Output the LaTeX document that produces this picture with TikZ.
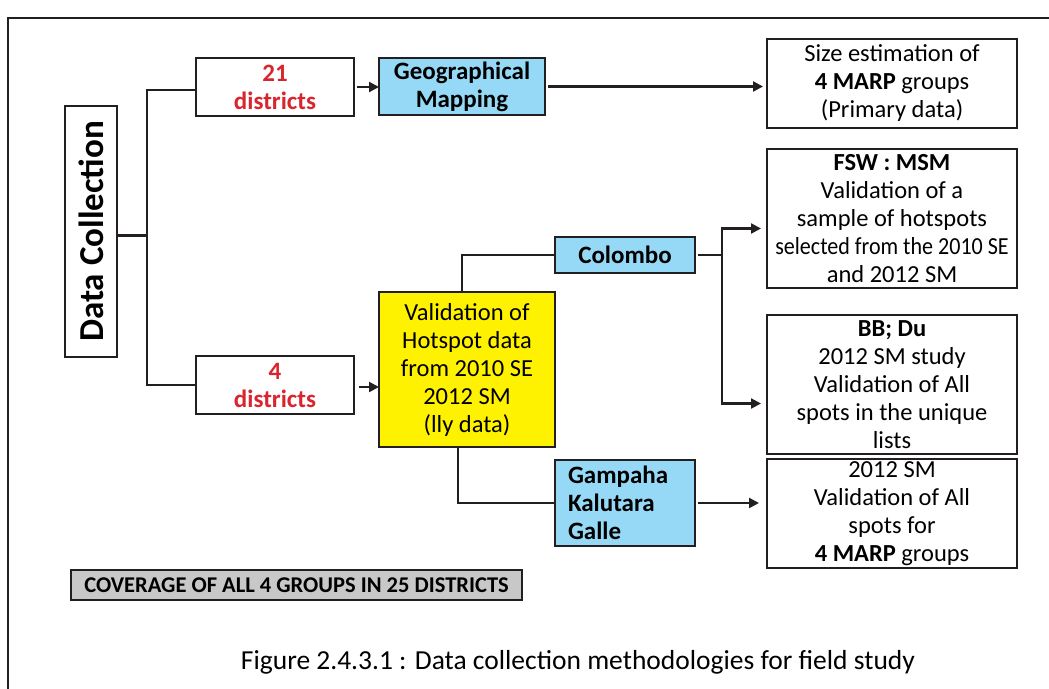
\documentclass[tikz,border=0pt]{standalone}
\usepackage{fontspec}
\setmainfont{Carlito}
\usetikzlibrary{arrows.meta,calc}
\definecolor{myred}{HTML}{D9262E}
\definecolor{myblue}{HTML}{95D9F7}
\definecolor{myyellow}{HTML}{FFF200}
\definecolor{mygray}{HTML}{C8C8C8}
\definecolor{myline}{HTML}{231F20}
\begin{document}
\begin{tikzpicture}[x=1pt,y=-1pt,
  box/.style={draw=myline,line width=2.2pt,align=center,inner sep=0pt,outer sep=0pt,
    font=\fontsize{24.5}{28}\selectfont},
  bbox/.style={box,font=\fontsize{25}{28}\selectfont\bfseries},
  conn/.style={draw=myline,line width=2.2pt},
  arr/.style={conn,-{Triangle[length=10pt,width=10pt]}}]
\useasboundingbox (0,0) rectangle (1049,688);
\clip (0,0) rectangle (1049,688);
\fill[white] (0,0) rectangle (1049,688);
\draw[myline,line width=2.2pt] (8,18) rectangle (1080,720);

\node[bbox,rotate=90,minimum width=251pt,minimum height=52pt,font=\fontsize{35}{38}\selectfont\bfseries] (dc) at (91,231.5) {Data Collection};
\node[bbox,text=myred,minimum width=158pt,minimum height=58pt] (d21) at (275,87) {21\\districts};
\node[bbox,fill=myblue,minimum width=166pt,minimum height=57pt] (geo) at (462,86.5) {Geographical\\Mapping};
\node[box,minimum width=250pt,minimum height=89pt] (size) at (892,83.5) {Size estimation of\\\textbf{4 MARP} groups\\(Primary data)};
\node[bbox,text=myred,minimum width=158pt,minimum height=58pt] (d4) at (275,385) {4\\districts};
\node[box,fill=myyellow,minimum width=176pt,minimum height=155pt] (val) at (467,369.5) {Validation of\\Hotspot data\\from 2010 SE\\2012 SM\\(lly data)};
\node[bbox,fill=myblue,minimum width=140pt,minimum height=36pt] (col) at (625,255) {Colombo};
\node[box,minimum width=250pt,minimum height=139pt] (fsw) at (892,218.5) {\textbf{FSW : MSM}\\Validation of a\\sample of hotspots\\\scalebox{0.9}[1]{selected from the 2010 SE}\\and 2012 SM};
\node[box,minimum width=250pt,minimum height=139pt] (bb) at (892,384.5) {\textbf{BB; Du}\\2012 SM study\\Validation of All\\spots in the unique\\lists};
\node[bbox,fill=myblue,minimum width=140pt,minimum height=86pt,align=left,text width=114pt] (gam) at (625,503) {Gampaha\\Kalutara\\Galle};
\node[box,minimum width=250pt,minimum height=109pt] (sm) at (892,513.5) {2012 SM\\Validation of All\\spots for\\\textbf{4 MARP} groups};
\node[bbox,fill=mygray,minimum width=451pt,minimum height=30pt,font=\fontsize{22.5}{24}\selectfont\bfseries] (cov) at (296.5,585) {COVERAGE OF ALL 4 GROUPS IN 25 DISTRICTS};
\node[font=\fontsize{27.5}{30}\selectfont,inner sep=0pt] (cap) at (578,662) {Figure 2.4.3.1 : Data collection methodologies for field study};

\draw[conn] ($(dc.south)+(0,4)$) -- ++(30,0) coordinate (j);
\draw[conn] ([yshift=-3pt]d21.west) -| (j) |- (d4.west);
\draw[arr,shorten <=3pt] (d21.east) -- (d21.east -| geo.west);
\draw[arr,shorten <=5pt] ([yshift=-2pt]d4.east) -- ([yshift=-2pt]d4.east -| val.west);
\draw[arr,shorten <=3pt,shorten >=4pt] (geo.east) -- (geo.east -| size.west);
\draw[conn] ([xshift=-5pt]val.north) |- (col.west);
\draw[conn] ([xshift=-9pt]val.south) |- (gam.west);
\draw[conn,shorten <=3pt] (col.east) -- ++(27,0) coordinate (k);
\draw[arr,shorten >=6pt] (k) |- ([yshift=-10pt]fsw.west);
\draw[arr,shorten >=6pt] (k) |- ([yshift=-19pt]bb.west);
\draw[arr,shorten <=3pt,shorten >=8pt] (gam.east) -- (gam.east -| sm.west);
\end{tikzpicture}
\end{document}
